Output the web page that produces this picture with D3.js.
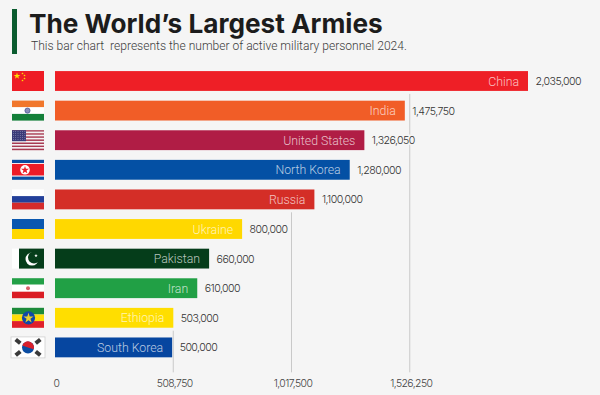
<!DOCTYPE html>
<html>
<head>
<meta charset="utf-8">
<script src="https://cdn.jsdelivr.net/npm/d3@7"></script>
<style>
  html, body { margin: 0; padding: 0; background: #f5f5f5; }
  svg { display: block; }
</style>
</head>
<body>
<svg></svg>
<script>
var countries = ['China', 'India', 'United States', 'North Korea', 'Russia', 'Ukraine', 'Pakistan', 'Iran', 'Ethiopia', 'South Korea'];
// the printed figures
var valueLabels = ['2,035,000', '1,475,750', '1,326,050', '1,280,000', '1,100,000', '800,000', '660,000', '610,000', '503,000', '500,000'];
// bar lengths, some differ a little from the printed figure
var barValues = [2035000, 1505000, 1331000, 1268000, 1116000, 805000, 663000, 612000, 509000, 504000];
var barColors = ['#ee1f26', '#f15d27', '#b01d45', '#0450a4', '#d42e27', '#ffd800', '#053d1a', '#21a045', '#ffde00', '#0646a0'];
var tickValues = [0, 508750, 1017500, 1526250];
var tickLabels = ['0', '508,750', '1,017,500', '1,526,250'];

var width = 600;
var height = 395;
var bg = '#f5f5f5';

var svg = d3.select('svg')
    .attr('width', width)
    .attr('height', height);

svg.append('rect')
    .attr('width', width)
    .attr('height', height)
    .attr('fill', bg);

var x = d3.scaleLinear().domain([0, 2035000]).range([55, 528]);
var y = d3.scaleBand().domain(countries).range([66.2, 362.2]).paddingInner(0.33).paddingOuter(0.165);

// header
svg.append('rect')
    .attr('x', 12).attr('y', 9)
    .attr('width', 5).attr('height', 45)
    .attr('fill', '#0b5c2f');

svg.append('text')
    .attr('x', 29).attr('y', 33)
    .attr('font-family', 'Inter')
    .attr('font-weight', 700)
    .attr('font-size', 26.2)
    .attr('fill', '#1c1c1c')
    .text('The World\u2019s Largest Armies');

svg.append('text')
    .attr('x', 31).attr('y', 50)
    .attr('font-family', 'Roboto')
    .attr('font-weight', 300)
    .attr('font-size', 12.06)
    .attr('fill', '#3c3c3c')
    .attr('xml:space', 'preserve')
    .style('white-space', 'pre')
    .text('This bar chart  represents the number of active military personnel 2024.');

// grid lines stop just under the last bar that reaches past them
var bottom = y(countries[9]) + y.bandwidth() + 15;
svg.append('g').selectAll('line')
    .data(tickValues.slice(1))
    .enter()
    .append('line')
    .attr('x1', d => x(d))
    .attr('x2', d => x(d))
    .attr('y1', function(d) {
        var last = d3.max(countries.filter((c, i) => barValues[i] > d), c => y(c));
        return last + y.bandwidth() + 3;
    })
    .attr('y2', bottom)
    .attr('stroke', '#c9c9c9')
    .attr('stroke-width', 1);

// bars
svg.append('g').selectAll('rect')
    .data(countries)
    .enter()
    .append('rect')
    .attr('x', x(0))
    .attr('y', d => y(d))
    .attr('width', (d, i) => x(barValues[i]) - x(0))
    .attr('height', y.bandwidth())
    .attr('fill', (d, i) => barColors[i]);

// country names inside the bars
svg.append('g').selectAll('text')
    .data(countries)
    .enter()
    .append('text')
    .attr('x', (d, i) => x(barValues[i]) - 9)
    .attr('y', d => y(d) + y.bandwidth() / 2 + 4.5)
    .attr('text-anchor', 'end')
    .attr('font-family', 'Roboto')
    .attr('font-weight', 300)
    .attr('font-size', 12.3)
    .attr('fill', 'rgba(255,255,255,0.72)')
    .text(d => d);

// values right of the bars, the stroke cuts the grid line behind them
svg.append('g').selectAll('text')
    .data(countries)
    .enter()
    .append('text')
    .attr('x', (d, i) => x(barValues[i]) + 7.5)
    .attr('y', d => y(d) + y.bandwidth() / 2 + 4)
    .attr('font-family', 'Inter')
    .attr('font-weight', 300)
    .attr('font-size', 10.6)
    .attr('letter-spacing', -0.55)
    .attr('fill', '#333')
    .attr('stroke', bg)
    .attr('stroke-width', 3)
    .attr('paint-order', 'stroke')
    .text((d, i) => valueLabels[i]);

// axis labels
var axis = d3.axisBottom(x)
    .tickValues(tickValues)
    .tickSize(0)
    .tickFormat((d, i) => tickLabels[i]);

var axisG = svg.append('g')
    .attr('transform', 'translate(0,376.5)')
    .call(axis);
axisG.select('.domain').remove();
axisG.selectAll('text')
    .attr('dx', 1)
    .attr('font-family', 'Inter')
    .attr('font-weight', 300)
    .attr('font-size', 10.4)
    .attr('letter-spacing', -0.55)
    .attr('fill', '#444');

// flags, each one drawn in a 32x20 box
function stripes(g, colors, sizes) {
    var pos = 0;
    colors.forEach(function(c, i) {
        g.append('rect').attr('x', 0).attr('y', pos).attr('width', 32).attr('height', sizes[i]).attr('fill', c);
        pos += sizes[i];
    });
}

function star(g, cx, cy, size, color, rotate) {
    g.append('path')
        .attr('d', d3.symbol(d3.symbolStar, size)())
        .attr('transform', 'translate(' + cx + ',' + cy + ') rotate(' + (rotate || 0) + ')')
        .attr('fill', color);
}

var flags = {
    'China': function(g) {
        stripes(g, ['#ee1c25'], [20]);
        star(g, 5, 5, 14, '#ffde00');
        [[10.5, 2.5], [12.5, 4.5], [12.5, 7.5], [10.5, 9.5]].forEach(p => star(g, p[0], p[1], 1.8, '#ffde00'));
    },
    'India': function(g) {
        stripes(g, ['#f1772c', '#ffffff', '#14803a'], [6.7, 6.6, 6.7]);
        g.append('circle').attr('cx', 15.5).attr('cy', 10).attr('r', 2.6).attr('fill', '#8a8fbb').attr('stroke', '#2b3a80').attr('stroke-width', 0.6);
    },
    'United States': function(g) {
        var reds = d3.range(13);
        reds.forEach(function(i) {
            g.append('rect').attr('x', 0).attr('y', i * 20 / 13).attr('width', 32).attr('height', 20 / 13)
                .attr('fill', i % 2 ? '#f4f0f2' : '#a83a52');
        });
        g.append('rect').attr('width', 14).attr('height', 11).attr('fill', '#3a3a78');
        d3.range(5).forEach(function(r) {
            d3.range(6).forEach(function(c) {
                g.append('circle').attr('cx', 1.4 + c * 2.3).attr('cy', 1.4 + r * 2).attr('r', 0.45).attr('fill', '#c8c8e0');
            });
        });
    },
    'North Korea': function(g) {
        stripes(g, ['#0b4ea2', '#ffffff', '#ed1c27', '#ffffff', '#0b4ea2'], [3.2, 0.9, 11.8, 0.9, 3.2]);
        g.append('circle').attr('cx', 13).attr('cy', 10).attr('r', 4.8).attr('fill', '#fff');
        star(g, 13, 10.3, 20, '#ed1c27');
    },
    'Russia': function(g) {
        stripes(g, ['#ffffff', '#23409a', '#d52b2b'], [6.7, 6.6, 6.7]);
    },
    'Ukraine': function(g) {
        stripes(g, ['#0a57b0', '#ffd800'], [10, 10]);
    },
    'Pakistan': function(g) {
        stripes(g, ['#ffffff'], [20]);
        g.append('rect').attr('x', 7).attr('width', 25).attr('height', 20).attr('fill', '#053d1a');
        g.append('circle').attr('cx', 20).attr('cy', 10.5).attr('r', 6.5).attr('fill', '#fff');
        g.append('circle').attr('cx', 22).attr('cy', 9).attr('r', 6).attr('fill', '#053d1a');
        star(g, 24, 7, 4, '#fff');
    },
    'Iran': function(g) {
        stripes(g, ['#23a047', '#ffffff', '#da1c24'], [6.5, 7, 6.5]);
        g.append('circle').attr('cx', 16).attr('cy', 10).attr('r', 2).attr('fill', '#d8606a');
    },
    'Ethiopia': function(g) {
        stripes(g, ['#1c8a3a', '#fcdd09', '#e0202a'], [6.7, 6.6, 6.7]);
        g.append('circle').attr('cx', 16.5).attr('cy', 10).attr('r', 6.6).attr('fill', '#0f47a8');
        star(g, 16.5, 10.3, 32, '#e8cf30');
    },
    'South Korea': function(g) {
        g.append('rect').attr('x', -1).attr('y', -0.5).attr('width', 34).attr('height', 21)
            .attr('fill', '#fff').attr('stroke', '#cfcfcf').attr('stroke-width', 0.8);
        g.append('circle').attr('cx', 16).attr('cy', 10).attr('r', 6).attr('fill', '#0b4da2');
        g.append('path')
            .attr('d', d3.arc().innerRadius(0).outerRadius(6).startAngle(-Math.PI * 0.4).endAngle(Math.PI * 0.6)())
            .attr('transform', 'translate(16,10)')
            .attr('fill', '#d9202c');
        [[6, 4, 40], [26, 4, -40], [6, 16, -40], [26, 16, 40]].forEach(function(t) {
            g.append('rect').attr('x', -3).attr('y', -2).attr('width', 6).attr('height', 4)
                .attr('transform', 'translate(' + t[0] + ',' + t[1] + ') rotate(' + t[2] + ')')
                .attr('fill', '#3a3a3a');
        });
    }
};

svg.append('g').selectAll('g')
    .data(countries)
    .enter()
    .append('g')
    .attr('transform', d => 'translate(12,' + (y(d) + y.bandwidth() / 2 - 10) + ')')
    .each(function(d) { flags[d](d3.select(this)); });
</script>
</body>
</html>
